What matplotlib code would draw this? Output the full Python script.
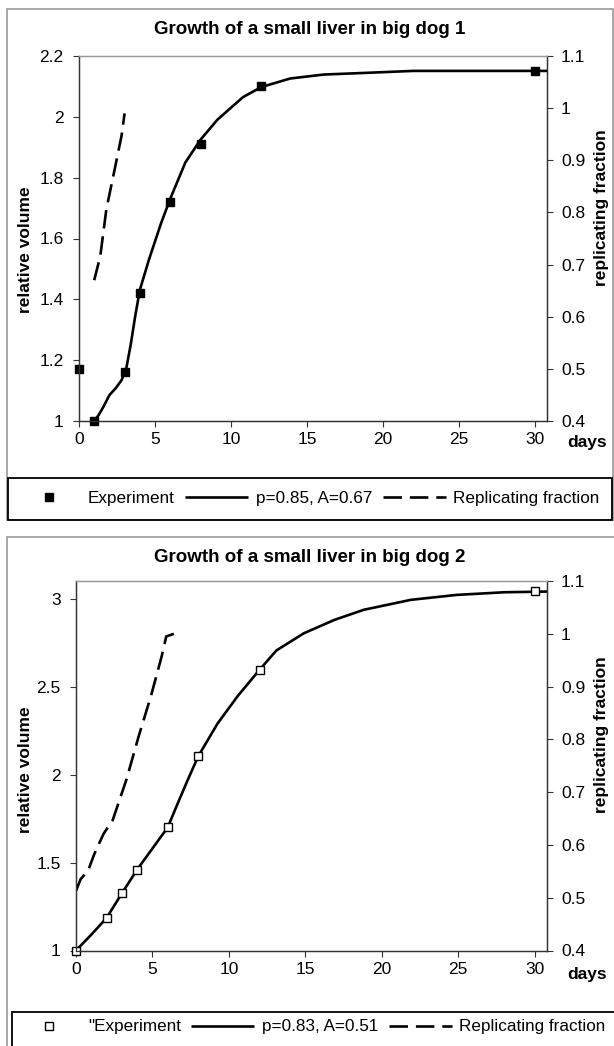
import matplotlib
matplotlib.use('Agg')

import matplotlib.pyplot as plt
from matplotlib.patches import Rectangle
from matplotlib.ticker import FuncFormatter, MultipleLocator

plt.rcParams['font.family'] = ['Liberation Sans', 'DejaVu Sans']

# ---- data ----
dog1_exp_days = [0, 1, 3, 4, 6, 8, 12, 30]
dog1_exp_vol = [1.17, 1.00, 1.16, 1.42, 1.72, 1.91, 2.10, 2.15]
dog1_fit_days = [1, 1.3, 1.6, 2.0, 2.4, 2.8, 3.1, 3.4, 3.7, 4.0, 4.6, 5.4,
                 6.0, 7.0, 8.0, 9.1, 10.0, 10.8, 12.0, 13.9, 16.1, 19.1,
                 22.0, 30.8]
dog1_fit_vol = [1.00, 1.02, 1.046, 1.085, 1.107, 1.134, 1.17, 1.25, 1.345,
                1.43, 1.53, 1.65, 1.73, 1.85, 1.925, 1.99, 2.03, 2.065, 2.098,
                2.126, 2.139, 2.145, 2.151, 2.151]
dog1_rep_days = [1.0, 1.4, 1.8, 2.3, 2.8, 3.0]
dog1_rep_frac = [0.67, 0.716, 0.806, 0.876, 0.947, 0.99]

dog2_exp_days = [0, 2, 3, 4, 6, 8, 12, 30]
dog2_exp_vol = [1.00, 1.185, 1.325, 1.46, 1.70, 2.105, 2.595, 3.045]
dog2_fit_days = [0, 1, 2, 3, 4, 5, 6, 6.7, 7.3, 8, 9.25, 10.6, 12, 13.1,
                 14.9, 16.9, 18.8, 21.9, 24.9, 28, 30.8]
dog2_fit_vol = [1.00, 1.09, 1.185, 1.325, 1.46, 1.58, 1.70, 1.846, 1.968,
                2.105, 2.289, 2.449, 2.595, 2.705, 2.803, 2.879, 2.936, 2.993,
                3.021, 3.036, 3.04]
dog2_rep_days = [0, 0.3, 0.8, 1.2, 1.8, 2.4, 3.3, 4.1, 4.9, 5.6, 5.9, 6.4]
dog2_rep_frac = [0.513, 0.535, 0.552, 0.583, 0.621, 0.647, 0.724, 0.806,
                 0.882, 0.957, 0.995, 1.0]

W, H = 614, 1046


def fx(x):
    return x / W


def fy(y):
    return 1 - y / H


fmt = FuncFormatter(lambda v, p: f'{v:g}')
TICK_FS = 12.5
LABEL_FS = 12.5
LEGEND_FS = 12.3


def draw_panel(fig, box, title, title_y, exp_days, exp_vol, fit_days, fit_vol,
               rep_days, rep_frac, ylim, ystep, exp_label, fit_label,
               open_marker, outer, legend_box, legend_y, days_xy, label_y):
    left, top, right, bottom = box
    ax = fig.add_axes([fx(left), fy(bottom), (right - left) / W, (bottom - top) / H])
    ax2 = ax.twinx()

    # outer chart frame and legend frame
    ox0, oy0, ox1, oy1 = outer
    fig.add_artist(Rectangle((fx(ox0), fy(oy1)), (ox1 - ox0) / W, (oy1 - oy0) / H,
                             transform=fig.transFigure, fill=False,
                             edgecolor='#9a9a9a', lw=1.2))
    lx0, ly0, lx1, ly1 = legend_box
    fig.add_artist(Rectangle((fx(lx0), fy(ly1)), (lx1 - lx0) / W, (ly1 - ly0) / H,
                             transform=fig.transFigure, fill=False,
                             edgecolor='black', lw=1.3))

    fit_line, = ax.plot(fit_days, fit_vol, color='black', lw=1.9, zorder=3,
                        solid_capstyle='butt')
    if open_marker:
        exp_pts, = ax.plot(exp_days, exp_vol, ls='none', marker='s', ms=5.8,
                           mfc='white', mec='black', mew=1.0, zorder=4, clip_on=False)
    else:
        exp_pts, = ax.plot(exp_days, exp_vol, ls='none', marker='s', ms=5.2,
                           mfc='black', mec='black', zorder=4, clip_on=False)
    rep_line, = ax2.plot(rep_days, rep_frac, color='black', lw=1.9,
                         dashes=(7, 3), dash_capstyle='butt')

    ax.set_xlim(0, 30.8)
    ax.set_ylim(*ylim)
    ax2.set_ylim(0.4, 1.1)
    ax.xaxis.set_major_locator(MultipleLocator(5))
    ax.yaxis.set_major_locator(MultipleLocator(ystep))
    ax2.yaxis.set_major_locator(MultipleLocator(0.1))
    ax.yaxis.set_major_formatter(fmt)
    ax2.yaxis.set_major_formatter(fmt)
    ax.xaxis.set_major_formatter(fmt)

    ax.tick_params(axis='x', direction='out', length=4, width=0.8, pad=4,
                   labelsize=TICK_FS, colors='#333333', labelcolor='black')
    ax.tick_params(axis='y', direction='out', length=4, width=0.8, pad=7,
                   labelsize=TICK_FS, colors='#333333', labelcolor='black')
    ax2.tick_params(axis='y', direction='out', length=4, width=0.8, pad=6,
                    labelsize=TICK_FS, colors='#333333', labelcolor='black')

    for a in (ax, ax2):
        for side in ('left', 'bottom', 'right'):
            a.spines[side].set_color('#333333')
            a.spines[side].set_linewidth(0.9)
        a.spines['top'].set_color('#999999')
        a.spines['top'].set_linewidth(0.9)

    # left label anchored at its right edge, right label at its left edge
    ax.set_ylabel('relative volume', fontsize=LABEL_FS, fontweight='bold')
    ax.yaxis.set_label_coords((33 - left) / (right - left), label_y[0])
    ax2.set_ylabel('replicating fraction', fontsize=LABEL_FS, fontweight='bold')
    ax2.yaxis.set_label_coords((594 - left) / (right - left), label_y[1])

    fig.text(fx(days_xy[0]), fy(days_xy[1]), 'days', fontsize=LABEL_FS,
             fontweight='bold', ha='center', va='center')
    fig.text(fx((ox0 + 613) / 2), fy(title_y), title, fontsize=13.5,
             fontweight='bold', ha='center', va='center')

    fig.legend(handles=[exp_pts, fit_line, rep_line],
               labels=[exp_label, fit_label, 'Replicating fraction'],
               loc='center left', ncol=3, frameon=False,
               bbox_to_anchor=(fx(17), fy(legend_y)),
               fontsize=LEGEND_FS, handlelength=3.7, handletextpad=0.45,
               borderpad=0, borderaxespad=0, columnspacing=0.6)
    return ax, ax2


fig = plt.figure(figsize=(W / 100, H / 100), dpi=100)

draw_panel(fig, (79, 56, 547, 421), 'Growth of a small liver in big dog 1', 29,
           dog1_exp_days, dog1_exp_vol, dog1_fit_days, dog1_fit_vol,
           dog1_rep_days, dog1_rep_frac, (1, 2.2), 0.2,
           'Experiment', 'p=0.85, A=0.67', False,
           (7, 9, 612.5, 520), (7.5, 478, 612, 520), 498, (587, 443),
           (0.47, 0.585))

draw_panel(fig, (76, 581, 547, 950.5), 'Growth of a small liver in big dog 2', 557,
           dog2_exp_days, dog2_exp_vol, dog2_fit_days, dog2_fit_vol,
           dog2_rep_days, dog2_rep_frac, (1, 3.1), 0.5,
           '"Experiment', 'p=0.83, A=0.51', True,
           (7, 537, 640, 1070), (12, 1012, 640, 1070), 1027, (587, 975),
           (0.49, 0.583))

fig.savefig('out.png', dpi=100)
